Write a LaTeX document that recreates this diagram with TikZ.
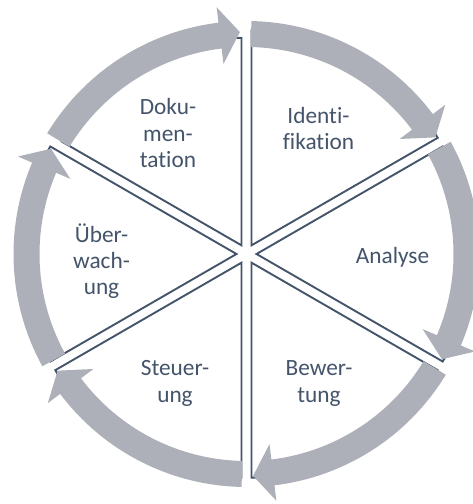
\documentclass[tikz,border=0pt]{standalone}
\usepackage{fontspec}
\setmainfont{Carlito}[Ligatures={NoCommon,NoContextual}]
\definecolor{slate}{HTML}{44546A}
\definecolor{arrowgrey}{HTML}{ADB0B8}
\begin{document}
\begin{tikzpicture}[x=1bp,y=1bp,
  sector/.style={draw=slate, line width=1.9bp, fill=white, line join=miter},
  cyclearrow/.style={fill=arrowgrey, draw=none},
  lbl/.style={text=slate, font=\fontsize{23.4}{26.5}\selectfont, align=center, inner sep=0pt, anchor=base}]
\useasboundingbox (-246.5,-250) rectangle (226.5,254);
% six segments (bisector angle / radius)
\foreach \b/\r in {60/215, 0/215, -60/215, -120/215, 180/215, 120/207.5}{
  \draw[sector] ({\b}:10) -- ++({\b-30}:\r) arc[start angle={\b-30}, end angle={\b+30}, radius=\r] -- cycle;
}
% six curved arrows (target boundary angle)
\foreach \b in {90,30,-30,-90,-150,150}{
  \fill[cyclearrow] ({\b+58.8}:233) arc[start angle={\b+58.8}, end angle={\b+6.9}, radius=233]
    -- ({\b+6.9}:248.5) -- ({\b+1.7}:222) -- ({\b+6.9}:191.5) -- ({\b+6.9}:207)
    arc[start angle={\b+6.9}, end angle={\b+58.8}, radius=207] -- cycle;
}
% labels (anchor = baseline of the last line)
\node[lbl] (dok) at (-78.5,86.5) {Doku-\\men-\\tation};
\node[lbl] (ident) at (72,104.5) {Identi-\\fikation};
\node[lbl] (ana) at (146,-9.3) {Analyse};
\node[lbl] (bew) at (72.5,-148) {Bewer-\\tung};
\node[lbl] (steu) at (-71.5,-148) {Steuer-\\ung};
\node[lbl] (ueb) at (-145,-41) {Über-\\wach-\\ung};
\end{tikzpicture}
\end{document}
